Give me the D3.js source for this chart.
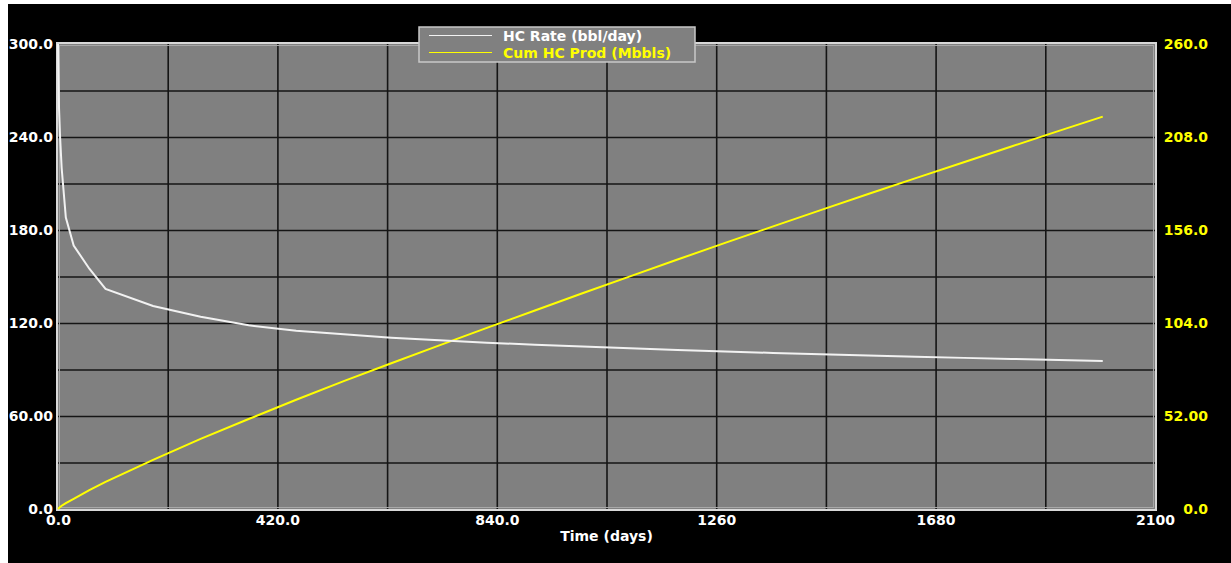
<!DOCTYPE html>
<html>
<head>
<meta charset="utf-8">
<script src="https://cdn.jsdelivr.net/npm/d3@7"></script>
<style>
  body { margin: 0; background: #fff; }
  svg { display: block; }
  .tick text { font-family: "DejaVu Sans", sans-serif; font-weight: bold; font-size: 14px; }
</style>
</head>
<body>
<div id="chart"></div>
<script>
// data
var days = [0, 1, 2, 4, 7, 15, 30, 60, 91, 182, 273, 365, 456, 547, 638, 730, 821, 913,
  1004, 1095, 1186, 1277, 1369, 1460, 1551, 1642, 1734, 1825, 1916, 2000];
var hcRate = [300, 280, 258, 240, 220, 188, 170, 155, 142, 131, 124, 118.5, 115, 112.7, 110.5,
  108.8, 107.3, 106, 104.8, 103.7, 102.6, 101.6, 100.7, 99.8, 99, 98.2, 97.5, 96.8, 96.1, 95.5];
var cumProd = [0, 0.3, 0.6, 1.1, 1.8, 3.3, 5.7, 10.6, 15.2, 27.5, 39.2, 50.3, 61.1, 71.5, 81.5,
  91.5, 101.3, 111, 120.6, 130.1, 139.5, 148.8, 158, 167.1, 176.1, 185, 193.9, 202.7, 211.4, 219.4];

var xTicks = [0, 420, 840, 1260, 1680, 2100];
var xTickLabels = ["0.0", "420.0", "840.0", "1260", "1680", "2100"];
var leftTicks = [0, 60, 120, 180, 240, 300];
var leftTickLabels = ["0.0", "60.00", "120.0", "180.0", "240.0", "300.0"];
var rightTicks = [0, 52, 104, 156, 208, 260];
var rightTickLabels = ["0.0", "52.00", "104.0", "156.0", "208.0", "260.0"];
var seriesNames = ["HC Rate (bbl/day)", "Cum HC Prod (Mbbls)"];
var seriesColors = ["#f2f2f2", "#ffff00"];

var svgWidth = 1231;
var svgHeight = 563;
var margin = { top: 44, right: 76, bottom: 54, left: 58 };
var width = svgWidth - margin.left - margin.right;
var height = svgHeight - margin.top - margin.bottom;

var svg = d3.select("#chart")
  .append("svg")
  .attr("width", svgWidth)
  .attr("height", svgHeight);

// black panel (picture has a thin white edge at left and top)
svg.append("rect")
  .attr("x", 8).attr("y", 4)
  .attr("width", svgWidth - 8).attr("height", svgHeight - 4)
  .attr("fill", "#000");

var chartGroup = svg.append("g")
  .attr("transform", `translate(${margin.left}, ${margin.top})`);

var xScale = d3.scaleLinear().domain([0, 2100]).range([0, width]);
var yLeft = d3.scaleLinear().domain([0, 300]).range([height, 0]);
var yRight = d3.scaleLinear().domain([0, 260]).range([height, 0]);

chartGroup.append("rect")
  .attr("width", width).attr("height", height)
  .attr("fill", "#808080");

// grid lines
chartGroup.append("g")
  .attr("class", "grid")
  .attr("transform", `translate(0, ${height})`)
  .call(d3.axisBottom(xScale).tickValues(d3.range(210, 2100, 210)).tickSize(-height).tickFormat(""))
  .call(g => g.select(".domain").remove())
  .call(g => g.selectAll("line").attr("stroke", "#151515").attr("stroke-width", 1.6));

chartGroup.append("g")
  .attr("class", "grid")
  .call(d3.axisLeft(yLeft).tickValues(d3.range(30, 300, 30)).tickSize(-width).tickFormat(""))
  .call(g => g.select(".domain").remove())
  .call(g => g.selectAll("line").attr("stroke", "#151515").attr("stroke-width", 1.6));

// plot border
chartGroup.append("rect")
  .attr("x", -1).attr("y", -1)
  .attr("width", width + 2).attr("height", height + 2)
  .attr("fill", "none")
  .attr("stroke", "#d8d8d8")
  .attr("stroke-width", 2);
chartGroup.append("rect")
  .attr("x", 1.5).attr("y", 1.5)
  .attr("width", width - 3).attr("height", height - 3)
  .attr("fill", "none")
  .attr("stroke", "#a8a8a8")
  .attr("stroke-width", 1);

// axes labels
chartGroup.append("g")
  .attr("transform", `translate(0, ${height})`)
  .call(d3.axisBottom(xScale).tickValues(xTicks).tickSize(0).tickPadding(6)
    .tickFormat((d, i) => xTickLabels[i]))
  .call(g => g.select(".domain").remove())
  .call(g => g.selectAll("text").attr("fill", "#fff"));

chartGroup.append("g")
  .call(d3.axisLeft(yLeft).tickValues(leftTicks).tickSize(0).tickPadding(5)
    .tickFormat((d, i) => leftTickLabels[i]))
  .call(g => g.select(".domain").remove())
  .call(g => g.selectAll("text").attr("fill", "#fff"));

chartGroup.append("g")
  .attr("transform", `translate(${width}, 0)`)
  .call(d3.axisRight(yRight).tickValues(rightTicks).tickSize(0).tickPadding(0)
    .tickFormat((d, i) => rightTickLabels[i]))
  .call(g => g.select(".domain").remove())
  .call(g => g.selectAll("text").attr("fill", "#ffff00").attr("text-anchor", "end").attr("x", 53));

chartGroup.append("text")
  .attr("x", width / 2)
  .attr("y", height + 32)
  .attr("text-anchor", "middle")
  .attr("fill", "#fff")
  .style("font-family", "DejaVu Sans, sans-serif")
  .style("font-weight", "bold")
  .style("font-size", "14px")
  .text("Time (days)");

// lines
var rateLine = d3.line()
  .x((d, i) => xScale(days[i]))
  .y(d => yLeft(d));
var cumLine = d3.line()
  .x((d, i) => xScale(days[i]))
  .y(d => yRight(d));

chartGroup.append("path")
  .datum(cumProd)
  .attr("d", cumLine)
  .attr("fill", "none")
  .attr("stroke", seriesColors[1])
  .attr("stroke-width", 2);

chartGroup.append("path")
  .datum(hcRate)
  .attr("d", rateLine)
  .attr("fill", "none")
  .attr("stroke", seriesColors[0])
  .attr("stroke-width", 2);

// legend
var legend = svg.append("g").attr("transform", "translate(419, 27)");
legend.append("rect")
  .attr("width", 276).attr("height", 35)
  .attr("fill", "#808080")
  .attr("stroke", "#c8c8c8")
  .attr("stroke-width", 1.5);
seriesNames.forEach(function(name, i) {
  var y = 8.5 + i * 17;
  legend.append("line")
    .attr("x1", 10).attr("x2", 73)
    .attr("y1", y).attr("y2", y)
    .attr("stroke", seriesColors[i])
    .attr("stroke-width", 1.2);
  legend.append("text")
    .attr("x", 84).attr("y", y + 5)
    .attr("fill", seriesColors[i] === "#f2f2f2" ? "#fff" : seriesColors[i])
    .style("font-family", "DejaVu Sans, sans-serif")
    .style("font-weight", "bold")
    .style("font-size", "14px")
    .text(name);
});
</script>
</body>
</html>
